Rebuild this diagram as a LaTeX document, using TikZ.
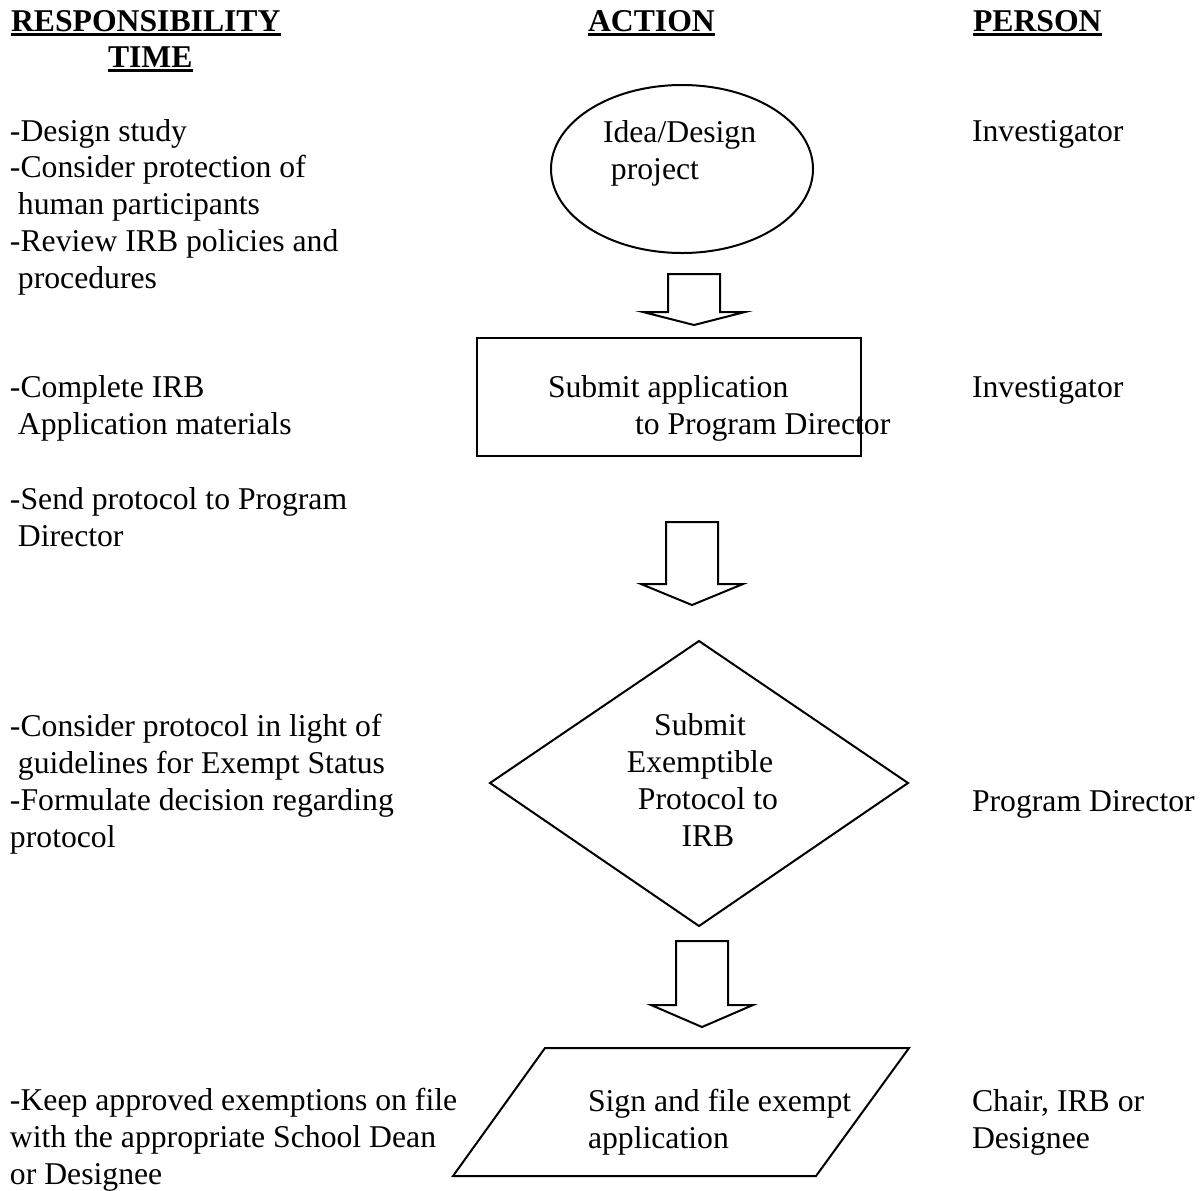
\documentclass[tikz,border=0pt]{standalone}
\usepackage{fontspec}
\setmainfont{Liberation Serif}
\usetikzlibrary{positioning}

\newcommand\bodyfont{\fontsize{15.85pt}{18.35pt}\selectfont}
% block arrow: centre x, top, shoulder, tip
\newcommand*\blockarr[4]{%
  \draw[shapeline] (#1-26,#2) -- (#1+26,#2) -- (#1+26,#3) -- (#1+51,#3)
    -- (#1,#4) -- (#1-51,#3) -- (#1-26,#3) -- cycle;}

\begin{document}
\begin{tikzpicture}[x=0.5pt, y=-0.5pt,
    txt/.style={anchor=base west, align=left, inner sep=0pt, outer sep=0pt, font=\bodyfont},
    hdr/.style={txt, font=\bodyfont\bfseries},
    uline/.style={line width=1.5pt},
    shapeline/.style={line width=1pt, line join=miter}]
  \useasboundingbox (0,0) rectangle (1204,1190);

  % headings
  \node[hdr] (resp) at (11,31) {RESPONSIBILITY};
  \node[hdr] (time) at (108,67) {TIME};
  \node[hdr] (action) at (588,31) {ACTION};
  \node[hdr] (person) at (973,31) {PERSON};
  \foreach \h in {resp, time, action, person}
    \draw[uline] ([yshift=-1.75pt]\h.base west) -- ([yshift=-1.75pt]\h.base east);

  % shapes
  \draw[shapeline] (682,169) ellipse (131 and 84);
  \draw[shapeline] (477,338) rectangle (861,456);
  \draw[shapeline] (699,641) -- (908,783) -- (699,926) -- (490,783) -- cycle;
  \draw[shapeline] (545,1048) -- (909,1048) -- (816,1176) -- (453,1176) -- cycle;

  \blockarr{694}{274}{312}{325}
  \blockarr{692}{522}{584}{605}
  \blockarr{702}{941}{1005}{1027}

  % action texts (base = last line)
  \node[txt] (idea) at (603,179) {Idea/Design\\ \hspace*{0.25em}project};
  \node[txt] (submit) at (548,434) {Submit application\\ \hspace*{43.5pt}to Program Director};
  \node[txt, align=center, anchor=base] (exempt) at (700,846)
    {Submit\\Exemptible\\ \hspace*{0.5em}Protocol to\\ \hspace*{0.5em}IRB};
  \node[txt] (sign) at (588,1148) {Sign and file exempt\\application};

  % responsibility column
  \node[txt] (r1) at (10,288) {-Design study\\-Consider protection of\\
    \hspace*{0.25em}human participants\\-Review IRB policies and\\ \hspace*{0.25em}procedures};
  \node[txt] (r2) at (10,434) {-Complete IRB\\ \hspace*{0.25em}Application materials};
  \node[txt] (r3) at (10,546) {-Send protocol to Program\\ \hspace*{0.25em}Director};
  \node[txt] (r4) at (10,847) {-Consider protocol in light of\\
    \hspace*{0.25em}guidelines for Exempt Status\\-Formulate decision regarding\\protocol};
  \node[txt] (r5) at (10,1184) {-Keep approved exemptions on file\\
    with the appropriate School Dean\\or Designee};

  % person column
  \node[txt] (p1) at (972,141) {Investigator};
  \node[txt] (p2) at (972,397) {Investigator};
  \node[txt] (p3) at (972,811) {Program Director};
  \node[txt] (p4) at (972,1148) {Chair, IRB or\\Designee};
\end{tikzpicture}
\end{document}
